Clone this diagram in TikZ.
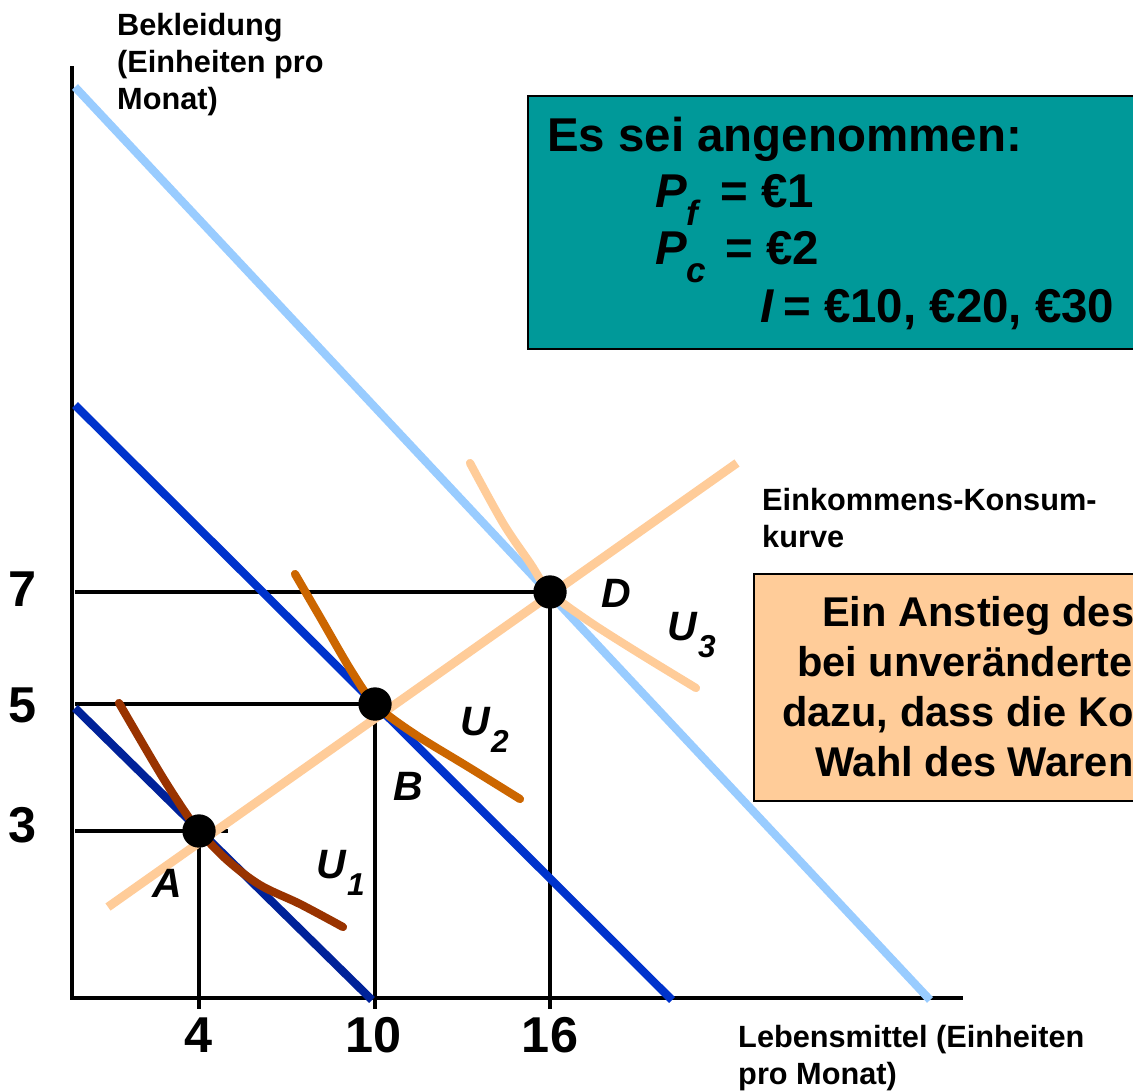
\documentclass[tikz,border=0pt]{standalone}
\usepackage{fontspec}
\setmainfont{Liberation Sans}
\newcommand\fsz[2]{\fontsize{#1}{#2}\selectfont}
\definecolor{tealbg}{RGB}{0,153,153}
\definecolor{peach}{RGB}{255,204,153}
\definecolor{lightblue}{RGB}{153,204,255}
\definecolor{midblue}{RGB}{0,51,204}
\definecolor{darkblue}{RGB}{0,34,153}
\definecolor{brownU}{RGB}{153,51,0}
\definecolor{orangeU}{RGB}{204,102,0}
\begin{document}
\begin{tikzpicture}[x=0.03cm,y=-0.03cm,
  axisline/.style={line width=3.4pt,black},
  guide/.style={line width=2.8pt,black},
  budget/.style={line width=7pt},
  ucurve/.style={line width=7pt,line cap=round,line join=round},
  dot/.style={circle,fill=black,inner sep=0pt,minimum size=1.0cm},
  axtitle/.style={font=\fsz{26.2}{31.5}\bfseries,align=left,anchor=north west,inner sep=0pt},
  ticklbl/.style={font=\fsz{43}{43}\bfseries,anchor=base,inner sep=0pt},
  ptlbl/.style={font=\fsz{35}{35}\bfseries\itshape,anchor=base,inner sep=0pt},
  ulbl/.style={font=\fsz{35}{35}\bfseries\itshape,anchor=base west,inner sep=0pt},
  boxtxt/.style={font=\fsz{40.5}{40.5}\bfseries,anchor=base west,inner sep=0pt},
  boxsub/.style={font=\fsz{30}{30}\bfseries\itshape,anchor=base west,inner sep=0pt},
  notetxt/.style={font=\fsz{35.5}{35.5}\bfseries,anchor=base west,inner sep=0pt}]
\useasboundingbox (0,0) rectangle (1133,1091);
\clip (0,0) rectangle (1133,1091);
\fill[white] (0,0) rectangle (1133,1091);

% axes
\coordinate (ytop) at (72,66);
\coordinate (xend) at (963,998);
\draw[axisline] (ytop) |- (xend);

% points
\coordinate (pA) at (199,831);
\coordinate (pB) at (375,704);
\coordinate (pD) at (550,592);
\coordinate (yA) at (75,831);
\coordinate (yAe) at (228,831);
\coordinate (yB) at (75,704);
\coordinate (yD) at (75,592);
\coordinate (xA) at (199,1009);
\coordinate (xB) at (375,1009);
\coordinate (xD) at (550,1009);

% guide lines
\draw[guide] (yA) -- (yAe);
\draw[guide] (pA) -- (xA);
\draw[guide] (yB) -- (pB) -- (xB);
\draw[guide] (yD) -- (pD) -- (xD);

% budget lines
\coordinate (b1s) at (75,708);  \coordinate (b1e) at (372,1000);
\coordinate (b2s) at (75,405);  \coordinate (b2e) at (672,1000);
\coordinate (b3s) at (75,87);   \coordinate (b3e) at (930,1000);
\draw[budget,darkblue] (b1s) -- (b1e);
\draw[budget,midblue] (b2s) -- (b2e);
\draw[budget,lightblue] (b3s) -- (b3e);

% income-consumption curve
\coordinate (iccs) at (108,907);
\coordinate (icce) at (737,463);
\draw[line width=7.5pt,peach] (iccs) -- (icce);

% indifference curves
\draw[ucurve,brownU] plot[smooth,tension=0.55] coordinates
  {(119,703) (160,773) (185,812) (199,831) (227,860) (260,885) (300,904) (343,927)};
\draw[ucurve,orangeU] plot[smooth,tension=0.55] coordinates
  {(295,574) (320,617) (352,672) (375,704) (413,733) (470,768) (520,799)};
\draw[ucurve,peach] plot[smooth,tension=0.55] coordinates
  {(470,463) (503,523) (530,563) (550,592) (587,620) (637,652) (696,688)};

% dots
\node[dot] (A) at (pA) {};
\node[dot] (B) at (pB) {};
\node[dot] (D) at (pD) {};

% point labels
\node[ptlbl] (labA) at (167,897) {A};
\node[ptlbl] (labB) at (408,800) {B};
\node[ptlbl] (labD) at (616,607) {D};
\node[ulbl] (labU1) at (316,878) {U\kern1pt\raisebox{-14.5pt}{\fsz{27}{27}1}};
\node[ulbl] (labU2) at (460,735) {U\kern1pt\raisebox{-14.5pt}{\fsz{27}{27}2}};
\node[ulbl] (labU3) at (667,640) {U\kern1pt\raisebox{-14.5pt}{\fsz{27}{27}3}};

% tick labels
\node[ticklbl] (t7) at (23,606) {7};
\node[ticklbl] (t5) at (23,722) {5};
\node[ticklbl] (t3) at (23,842) {3};
\node[ticklbl] (t4) at (199,1052) {4};
\node[ticklbl] (t10) at (374,1052) {10};
\node[ticklbl] (t16) at (550,1052) {16};

% axis titles
\node[axtitle] (ytitle) at (117,13) {Bekleidung\\(Einheiten pro\\Monat)};
\node[axtitle] (xtitle) at (738,1025) {Lebensmittel (Einheiten\\pro Monat)};
\node[axtitle] (icctitle) at (762,488) {Einkommens-Konsum-\\kurve};

% assumption box
\node[draw=black,line width=1.8pt,fill=tealbg,anchor=north west,inner sep=0pt,
  minimum width=19.5cm,minimum height=7.59cm] (tealbox) at (527,95) {};
\node[boxtxt] (head) at (547,151) {Es sei angenommen:};
\node[boxtxt] (pf) at (655,207) {\itshape P};
\node[boxsub] (pfs) at (686,225) {f};
\node[boxtxt] (pfv) at (720,207) {= €1};
\node[boxtxt] (pc) at (655,264) {\itshape P};
\node[boxsub] (pcs) at (686,282) {c};
\node[boxtxt] (pcv) at (725,264) {= €2};
\node[boxtxt] (inc) at (760,322) {\itshape I};
\node[boxtxt] (incv) at (783,322) {= €10, €20, €30};

% note box
\node[draw=black,line width=1.8pt,fill=peach,anchor=north west,inner sep=0pt,
  minimum width=12cm,minimum height=6.81cm] (notebox) at (753,573) {};
\node[notetxt] (n1) at (822,626) {Ein Anstieg des};
\node[notetxt] (n2) at (797,676) {bei unveränderte};
\node[notetxt] (n3) at (782,726) {dazu, dass die Ko};
\node[notetxt] (n4) at (815,776) {Wahl des Waren};
\end{tikzpicture}
\end{document}
